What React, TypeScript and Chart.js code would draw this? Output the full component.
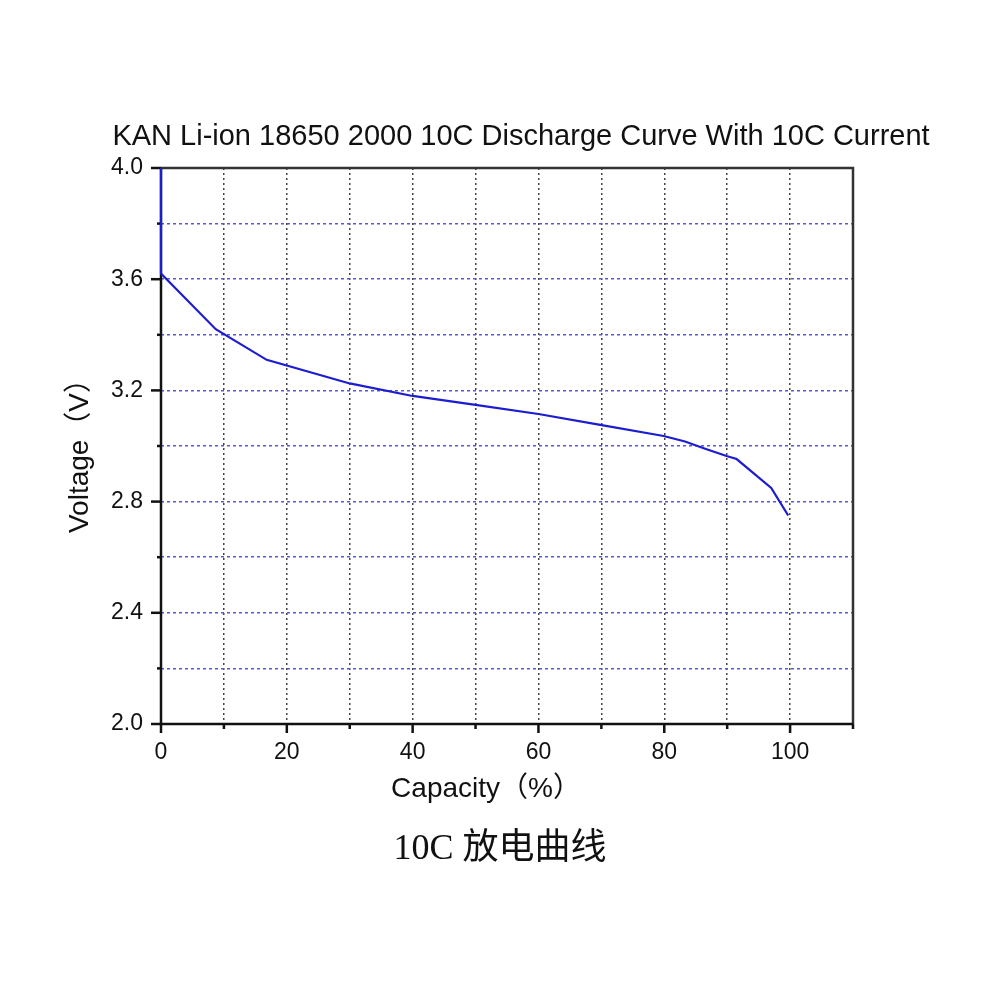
import React, { useEffect, useRef } from "react";
import { Chart, registerables } from "chart.js";

Chart.register(...registerables);

const capacity = [0, 0, 8.7, 16.8, 30, 40, 50, 60, 69.6, 79.9, 83.3, 86.5, 89.9, 91.5, 97, 99.7];
const voltage = [4.0, 3.62, 3.42, 3.31, 3.225, 3.18, 3.148, 3.115, 3.077, 3.036, 3.016, 2.99, 2.964, 2.953, 2.849, 2.75];
const xTickLabels = [0, 20, 40, 60, 80, 100];
const yTickLabels = [2.0, 2.4, 2.8, 3.2, 3.6, 4.0];

const titleText = "KAN Li-ion 18650 2000 10C Discharge Curve With 10C Current";
const xTitle = "Capacity（%）";
const yTitle = "Voltage（V）";
const caption = "10C 放电曲线";

const SANS = '"Liberation Sans", Arial, "Noto Sans CJK SC", sans-serif';

const framePlugin = {
  id: "frame",
  beforeDatasetsDraw(chart: any) {
    const { ctx, chartArea } = chart;
    const { left, right, top, bottom } = chartArea;
    const xs = chart.scales.x;
    const ys = chart.scales.y;
    ctx.save();
    ctx.strokeStyle = "#333";
    ctx.lineWidth = 2.5;
    ctx.beginPath();
    ctx.moveTo(left, top);
    ctx.lineTo(right, top);
    ctx.lineTo(right, bottom);
    ctx.stroke();
    ctx.strokeStyle = "#111";
    ctx.lineWidth = 2.5;
    ctx.beginPath();
    ctx.moveTo(left, top);
    ctx.lineTo(left, bottom);
    ctx.lineTo(right, bottom);
    ctx.stroke();
    for (let v = 2.0; v <= 4.001; v += 0.2) {
      const y = ys.getPixelForValue(v);
      const major = yTickLabels.some((t) => Math.abs(t - v) < 1e-6);
      const len = major ? 10 : 4;
      ctx.beginPath();
      ctx.moveTo(left - len, y);
      ctx.lineTo(left, y);
      ctx.stroke();
    }
    for (let v = 0; v <= 110; v += 10) {
      const x = xs.getPixelForValue(v);
      const major = xTickLabels.includes(v);
      const len = major ? 9 : 5;
      ctx.beginPath();
      ctx.moveTo(x, bottom);
      ctx.lineTo(x, bottom + len);
      ctx.stroke();
    }
    ctx.restore();
  },
  afterDraw(chart: any) {
    const { ctx } = chart;
    ctx.save();
    ctx.fillStyle = "#111";
    ctx.textAlign = "center";
    ctx.textBaseline = "middle";
    ctx.font = `29px ${SANS}`;
    ctx.fillText(titleText, 521, 137);
    ctx.font = `28px ${SANS}`;
    ctx.fillText(xTitle, 486, 789);
    ctx.save();
    ctx.translate(80, 449);
    ctx.rotate(-Math.PI / 2);
    ctx.fillText(yTitle, 0, 0);
    ctx.restore();
    ctx.font = `36px "Liberation Serif", "Times New Roman", "Noto Sans CJK SC", serif`;
    ctx.fillText(caption, 500, 850);
    ctx.restore();
  },
};

export default function App() {
  const ref = useRef<HTMLCanvasElement>(null);
  useEffect(() => {
    if (!ref.current) return;
    const chart = new Chart(ref.current, {
      type: "line",
      data: {
        datasets: [
          {
            data: capacity.map((c, i) => ({ x: c, y: voltage[i] })),
            borderColor: "#1c1cd0",
            borderWidth: 2.2,
            pointRadius: 0,
            fill: false,
            tension: 0,
            clip: 5,
          },
        ],
      },
      options: {
        animation: false,
        responsive: false,
        layout: { padding: { left: 0, top: 168, right: 147, bottom: 0 } },
        plugins: { legend: { display: false }, title: { display: false }, tooltip: { enabled: false } },
        scales: {
          x: {
            type: "linear",
            min: 0,
            max: 110,
            border: { display: false, dash: [2, 3] },
            grid: {
              color: (c: any) => (c.tick && (c.tick.value === 0 || c.tick.value === 110) ? "rgba(0,0,0,0)" : "#444"),
              lineWidth: 1.5,
              borderDash: [2, 3],
              drawTicks: false,
            },
            ticks: {
              stepSize: 10,
              padding: 15,
              color: "#111",
              font: { size: 23, family: SANS },
              maxRotation: 0,
              autoSkip: false,
              callback: (v: any) => (xTickLabels.includes(Number(v)) ? String(v) : ""),
            },
            afterFit: (s: any) => {
              s.height = 276;
            },
          },
          y: {
            type: "linear",
            min: 2.0,
            max: 4.0,
            border: { display: false, dash: [3, 3] },
            grid: {
              color: (c: any) =>
                c.tick && (Math.abs(c.tick.value - 2) < 1e-6 || Math.abs(c.tick.value - 4) < 1e-6)
                  ? "rgba(0,0,0,0)"
                  : "#5858d0",
              lineWidth: 1.5,
              borderDash: [3, 3],
              drawTicks: false,
            },
            ticks: {
              stepSize: 0.2,
              padding: 18,
              color: "#111",
              font: { size: 23, family: SANS },
              autoSkip: false,
              callback: (v: any) => {
                const n = Number(v);
                return yTickLabels.some((t) => Math.abs(t - n) < 1e-6) ? n.toFixed(1) : "";
              },
            },
            afterFit: (s: any) => {
              s.width = 161;
            },
          },
        },
      } as any,
      plugins: [framePlugin],
    });
    return () => chart.destroy();
  }, []);
  return (
    <div style={{ position: "absolute", left: 0, top: 0, width: 1000, height: 1000, background: "#fff" }}>
      <canvas ref={ref} width={1000} height={1000} style={{ width: 1000, height: 1000 }} />
    </div>
  );
}
